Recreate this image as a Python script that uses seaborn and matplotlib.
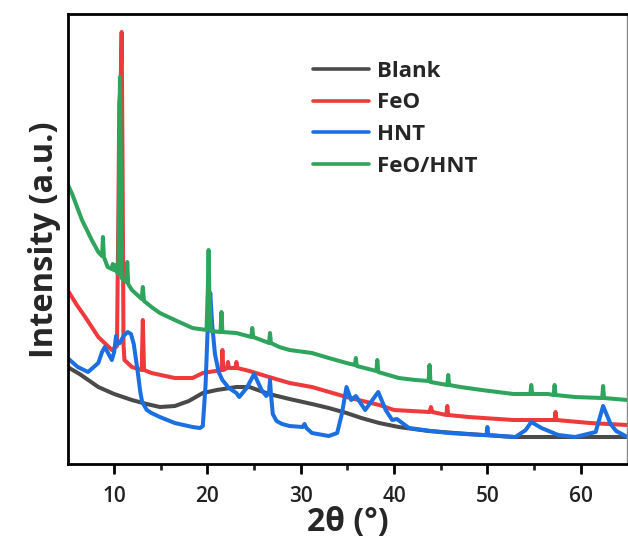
import numpy as np
import pandas as pd
import matplotlib
matplotlib.use("Agg")
import matplotlib.pyplot as plt
import seaborn as sns

# ---- XRD patterns: 2θ (degrees) and intensity (arbitrary units) ----
blank_2theta = [5.0, 6.3, 8.3, 10.0, 11.9, 13.5, 14.9, 16.5, 18.0, 19.5, 21.0, 23.1, 24.5,
                26.6, 28.8, 31.2, 33.0, 34.9, 36.5, 38.4, 40.5, 43.7, 48.0, 52.8, 57.6, 61.0, 65.0]
blank_int = [97, 90, 77, 70, 64, 60, 57, 58, 63, 71, 74, 77, 77,
             70, 65, 60, 56, 51, 46, 41, 37, 33, 30, 27, 27, 27, 27]

feo_2theta = [5.0, 6.0, 6.9, 8.3, 9.75, 10.3, 10.45, 10.55, 10.7, 10.8, 10.9, 11.0, 11.1, 11.9,
              12.95, 13.07, 13.2, 14.0, 16.5, 18.4, 19.5, 21.5, 21.6, 21.7, 22.1, 22.2, 22.3,
              23.0, 23.1, 23.2, 24.5, 26.6, 28.8, 31.2, 34.9, 38.4, 40.0, 43.8, 43.95, 44.1,
              45.6, 45.7, 45.8, 48.0, 52.8, 57.2, 57.3, 57.4, 61.0, 65.0]
feo_int = [174, 159, 147, 127, 114, 118, 250, 361, 380, 432, 300, 120, 104, 97,
           94, 144, 94, 91, 86, 86, 91, 94, 114, 94, 96, 102, 96,
           96, 102, 96, 93, 87, 81, 77, 67, 59, 54, 52, 57, 52,
           49, 58, 49, 47, 44, 44, 52, 44, 41, 39]

hnt_2theta = [5.0, 6.1, 7.2, 8.3, 8.7, 9.0, 9.4, 9.75, 10.0, 10.2, 10.3, 10.6, 11.0, 11.45,
              11.8, 12.1, 12.5, 12.8, 13.0, 13.5, 14.0, 14.9, 16.5, 18.4, 19.2, 19.5, 19.8,
              20.0, 20.2, 20.3, 20.5, 20.8, 21.2, 21.6, 22.3, 23.1, 23.4, 24.2, 25.0, 25.4,
              25.8, 26.3, 26.6, 26.7, 26.8, 27.0, 27.4, 28.0, 28.8, 30.2, 30.4, 30.6, 31.2,
              33.0, 33.9, 34.4, 34.9, 35.4, 35.9, 36.9, 38.3, 39.1, 39.8, 40.3, 41.6, 44.0,
              45.9, 49.4, 49.9, 50.0, 50.1, 53.0, 54.1, 54.7, 55.8, 57.6, 59.4, 61.6, 62.4,
              63.2, 63.8, 65.0]
hnt_int = [106, 97, 92, 101, 112, 117, 110, 104, 112, 128, 120, 121, 128, 132,
           130, 120, 94, 72, 62, 54, 51, 47, 41, 37, 36, 38, 80,
           130, 160, 171, 140, 110, 92, 84, 76, 71, 67, 76, 90, 82,
           74, 68, 72, 84, 70, 50, 43, 40, 38, 37, 40, 36, 31,
           28, 31, 50, 77, 64, 68, 54, 72, 54, 44, 45, 36, 33,
           31, 29, 29, 37, 29, 27, 34, 42, 36, 29, 27, 32, 58,
           40, 33, 27]

feo_hnt_2theta = [5.0, 5.5, 6.55, 7.6, 8.3, 8.7, 8.8, 8.9, 9.3, 9.75, 9.85, 9.95, 10.1, 10.2,
                  10.45, 10.55, 10.62, 10.7, 10.8, 11.3, 11.4, 11.5, 11.9, 12.95, 13.07, 13.2,
                  14.0, 14.9, 16.5, 18.4, 19.9, 20.05, 20.12, 20.2, 20.35, 21.4, 21.5, 21.6,
                  23.1, 24.7, 24.8, 24.9, 26.6, 26.7, 26.8, 27.7, 28.8, 31.2, 33.0, 34.9, 35.8,
                  35.9, 36.0, 38.1, 38.2, 38.3, 40.5, 42.3, 43.7, 43.8, 43.9, 45.7, 45.8, 45.9,
                  47.1, 49.4, 52.8, 54.6, 54.7, 54.8, 56.5, 57.1, 57.2, 57.3, 59.4, 62.3, 62.4,
                  62.5, 65.0]
feo_hnt_int = [280, 270, 244, 224, 212, 208, 227, 207, 197, 195, 200, 194, 199, 193,
               190, 300, 387, 320, 186, 182, 202, 180, 174, 165, 177, 163,
               157, 151, 144, 136, 134, 180, 214, 170, 133, 132, 152, 132,
               131, 127, 136, 127, 121, 131, 121, 117, 114, 111, 106, 101, 99,
               106, 98, 93, 104, 92, 86, 84, 83, 99, 82, 79, 89, 79,
               77, 74, 70, 70, 79, 70, 70, 69, 79, 69, 67, 66, 78,
               66, 64]

sample_names = ["Blank", "FeO", "HNT", "FeO/HNT"]
sample_colors = ["#4a4a4a", "#ee3a3c", "#1c6fe0", "#2ea45c"]

series = {
    "Blank": (blank_2theta, blank_int),
    "FeO": (feo_2theta, feo_int),
    "HNT": (hnt_2theta, hnt_int),
    "FeO/HNT": (feo_hnt_2theta, feo_hnt_int),
}

frames = []
for name in sample_names:
    tt, inten = series[name]
    frames.append(pd.DataFrame({"2theta": tt, "intensity": inten, "sample": name}))
df = pd.concat(frames, ignore_index=True)

sns.set_theme(style="white")
plt.rcParams["font.family"] = ["Open Sans", "DejaVu Sans"]
plt.rcParams["font.weight"] = "bold"

fig = plt.figure(figsize=(6.28, 5.41), dpi=100)
ax = fig.add_axes([0.1075, 0.1423, 0.8915, 0.8309])

for name, color in zip(sample_names, sample_colors):
    sns.lineplot(data=df[df["sample"] == name], x="2theta", y="intensity",
                 color=color, lw=2.9, label=name, ax=ax,
                 estimator=None, sort=False)

ax.set_xlim(5, 65)
ax.set_ylim(0, 449.5)
ax.set_xticks([10, 20, 30, 40, 50, 60])
ax.set_xticks([15, 25, 35, 45, 55], minor=True)
ax.set_yticks([])

for side in ["left", "bottom", "top"]:
    ax.spines[side].set_linewidth(2.0)
    ax.spines[side].set_color("black")
ax.spines["right"].set_linewidth(1.0)
ax.spines["right"].set_color("#888888")

ax.tick_params(axis="x", which="major", direction="out", length=7, width=2,
               labelsize=15, pad=9, colors="black", bottom=True)
ax.tick_params(axis="x", which="minor", direction="out", length=4, width=2,
               bottom=True)
for lbl in ax.get_xticklabels():
    lbl.set_fontweight("semibold")
    lbl.set_color("#222222")

ax.set_xlabel("2θ (°)", fontsize=23, fontweight="bold", labelpad=-1)
ax.set_ylabel("Intensity (a.u.)", fontsize=23.5, fontweight="bold", labelpad=5)

leg = ax.legend(frameon=False, loc="upper left", bbox_to_anchor=(0.438, 0.897),
                borderaxespad=0, borderpad=0, fontsize=16, handlelength=2.55,
                handletextpad=0.33, labelspacing=0.48)
for line in leg.get_lines():
    line.set_linewidth(2.6)
for t in leg.get_texts():
    t.set_fontweight("bold")

fig.savefig("out.png", dpi=100)
